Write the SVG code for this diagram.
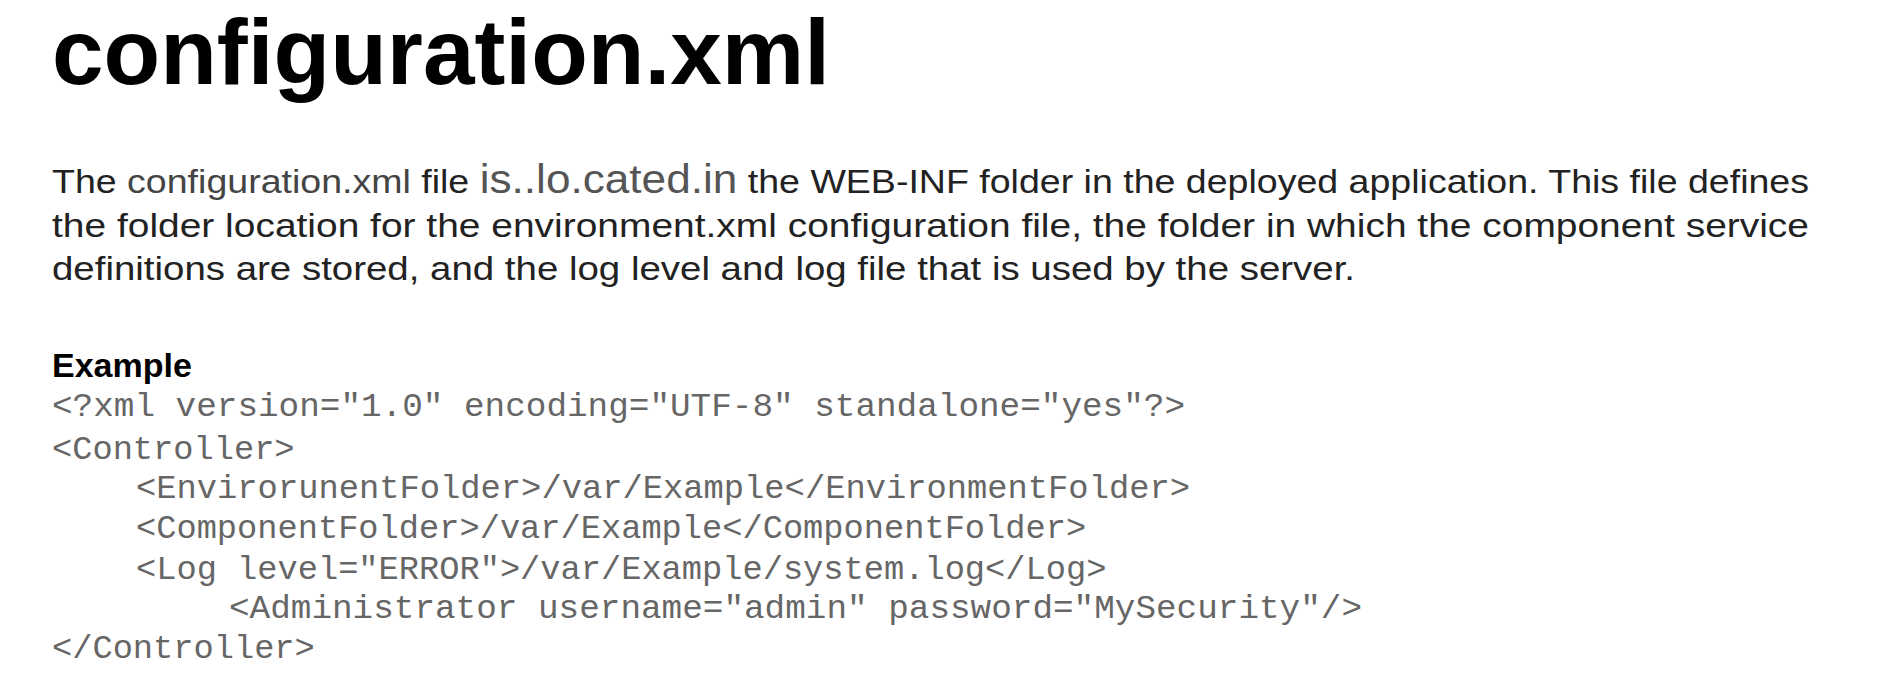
<svg xmlns="http://www.w3.org/2000/svg" width="1890" height="690" viewBox="0 0 1890 690">
<style>
.t{font-family:"Liberation Sans",Arial,sans-serif;font-weight:bold;fill:#000}
.p{font-family:"Liberation Sans",Arial,sans-serif;font-size:34px;fill:#222}
.c{font-family:"Liberation Mono","Courier New",monospace;font-size:33.7px;fill:#666}
</style>
<rect width="1890" height="690" fill="#fff"/>
<g id="title"><text class="t" x="52" y="84" font-size="92" textLength="778" lengthAdjust="spacingAndGlyphs">configuration.xml</text></g>
<g id="paragraph">
<text class="p" x="52" y="193" textLength="1757" lengthAdjust="spacingAndGlyphs">The <tspan fill="#444">configuration.xml</tspan> file <tspan font-size="40" fill="#555">is..lo.cated.in</tspan> the WEB-INF folder in the deployed application. This file defines</text>
<text class="p" x="52" y="237" textLength="1757" lengthAdjust="spacingAndGlyphs">the folder location for the environment.xml configuration file, the folder in which the component service</text>
<text class="p" x="52" y="280" textLength="1303" lengthAdjust="spacingAndGlyphs">definitions are stored, and the log level and log file that is  used by the server.</text>
</g>
<g id="example">
<text class="t" x="52" y="377" font-size="34">Example</text>
<text class="c" x="52" y="416" textLength="1133" lengthAdjust="spacingAndGlyphs">&lt;?xml version="1.0" encoding="UTF-8" standalone="yes"?&gt;</text>
<text class="c" x="52" y="459">&lt;Controller&gt;</text>
<text class="c" x="136" y="498" textLength="1054" lengthAdjust="spacingAndGlyphs">&lt;EnvirorunentFolder&gt;/var/Example&lt;/EnvironmentFolder&gt;</text>
<text class="c" x="136" y="538">&lt;ComponentFolder&gt;/var/Example&lt;/ComponentFolder&gt;</text>
<text class="c" x="136" y="579">&lt;Log level="ERROR"&gt;/var/Example/system.log&lt;/Log&gt;</text>
<text class="c" x="229" y="618" textLength="1133" lengthAdjust="spacingAndGlyphs">&lt;Administrator username="admin" password="MySecurity"/&gt;</text>
<text class="c" x="52" y="658">&lt;/Controller&gt;</text>
</g>
</svg>
